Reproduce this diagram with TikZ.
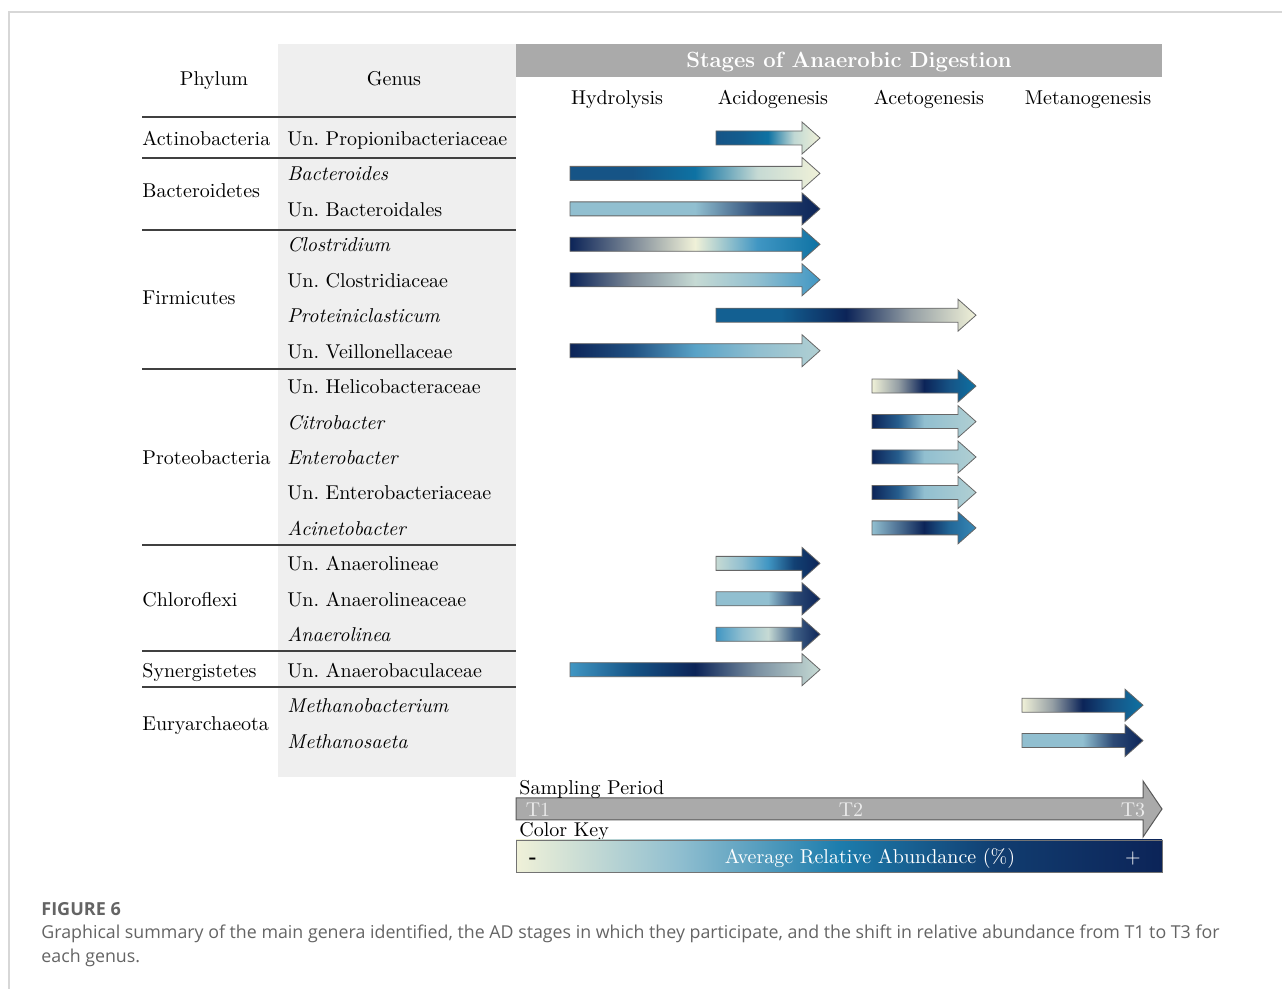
\documentclass[tikz,border=0pt]{standalone}
\usepackage{fontspec}
\newfontfamily\capfont{Open Sans}
\usepackage{tikz}
\frenchspacing

\definecolor{framegray}{RGB}{215,215,215}
\definecolor{genusgray}{RGB}{239,239,239}
\definecolor{bargray}{RGB}{170,170,170}
\definecolor{capgray}{RGB}{100,100,100}
\definecolor{acream}{RGB}{240,241,216}
\definecolor{apale}{RGB}{198,218,212}
\definecolor{alight}{RGB}{145,191,208}
\definecolor{amid}{RGB}{64,150,195}
\definecolor{ateal}{RGB}{14,114,163}
\definecolor{adeep}{RGB}{22,84,134}
\definecolor{anavy}{RGB}{12,36,88}

% five colour stops along an arrow (0, 1/4, 1/2, 3/4, 1)
\newcommand{\abshading}[6]{\pgfdeclarehorizontalshading{#1}{100bp}{color(0bp)=(#2); color(25bp)=(#2); color(37.5bp)=(#3); color(50bp)=(#4); color(62.5bp)=(#5); color(75bp)=(#6); color(100bp)=(#6)}}
\abshading{sPropion}{adeep}{adeep!70!ateal}{ateal}{alight!50!acream}{acream}
\abshading{sBacteroides}{adeep}{adeep}{ateal}{apale}{acream}
\abshading{sDarkEnd}{alight}{alight}{alight}{anavy!75!alight}{anavy}
\abshading{sClostridium}{anavy}{anavy!50!acream}{acream}{amid}{ateal}
\abshading{sClostridiaceae}{anavy}{anavy!50!acream}{apale}{alight}{amid}
\abshading{sProteini}{adeep!60!ateal}{adeep!60!ateal}{anavy}{anavy!40!acream}{acream}
\abshading{sVeillonella}{anavy}{anavy!60!amid}{amid!70!alight}{alight}{apale!60!alight}
\abshading{sCreamStart}{acream}{anavy!40!acream}{anavy}{adeep}{ateal}
\abshading{sPaleEnd}{anavy}{anavy!50!amid}{alight}{alight!70!apale}{apale!60!alight}
\abshading{sAcineto}{alight}{anavy!50!alight}{anavy}{adeep!70!amid}{amid!80!adeep}
\abshading{sAnaerolineae}{apale}{alight}{amid}{adeep!60!anavy}{anavy}
\abshading{sAnaerolinea}{amid}{alight}{apale}{anavy!60!alight}{anavy}
\abshading{sAnaerobacula}{amid}{adeep}{anavy}{anavy!40!apale}{apale}
\abshading{sKey}{acream}{alight}{ateal!70!amid}{adeep!50!anavy}{anavy}

% y, x start, x tip, shading
\newcommand{\stagearrow}[4]{\shadedraw[abarrow, shading=#4] (#2,#1-7) -- (#3-18,#1-7) -- (#3-18,#1-16) -- (#3,#1) -- (#3-18,#1+16) -- (#3-18,#1+7) -- (#2,#1+7) -- cycle;}

\begin{document}
\begin{tikzpicture}[
        x=0.5pt, y=-0.5pt,
        txt/.style={inner sep=0pt, text height=9pt, text depth=1.5pt, font=\fontsize{10}{12}\selectfont},
        phylum/.style={txt, anchor=west},
        genus/.style={txt, anchor=west},
        stage/.style={txt},
        sep/.style={draw=black!75, line width=0.75pt},
        abarrow/.style={draw=black!60, line width=0.4pt},
        keytext/.style={txt, text=white},
        caption/.style={anchor=west, inner sep=0pt, text=capgray, font=\capfont\fontsize{8.9}{11}\selectfont}
    ]
        \useasboundingbox (0,0) rectangle (1282,989);
        \draw[framegray, line width=0.6pt] (9,989) -- (9,12) -- (1282,12);

        % Table background and header
        \fill[genusgray] (278,44) rectangle (516,777);
        \fill[bargray] (516,44) rectangle (1162,77);
        \node[txt, text=white, font=\bfseries\fontsize{11}{13}\selectfont] (title) at (849,60) {Stages of Anaerobic Digestion};
        \node[txt] (phylumhead) at (214,78) {Phylum};
        \node[txt] (genushead) at (394,78) {Genus};
        \node[stage] (hydro) at (617,97) {Hydrolysis};
        \node[stage] (acido) at (773,97) {Acidogenesis};
        \node[stage] (aceto) at (929,97) {Acetogenesis};
        \node[stage] (metano) at (1088,97) {Metanogenesis};

        \foreach \y in {117,158,230,369,545,651,687}
            \draw[sep] (142,\y) -- (516,\y);

        % Phyla
        \node[phylum] (actino) at (142,138) {Actinobacteria};
        \node[phylum] (bactero) at (142,190) {Bacteroidetes};
        \node[phylum] (firmi) at (142,297) {Firmicutes};
        \node[phylum] (proteo) at (142,457) {Proteobacteria};
        \node[phylum] (chloro) at (142,599) {Chloroflexi};
        \node[phylum] (synerg) at (142,670) {Synergistetes};
        \node[phylum] (euryar) at (142,723) {Euryarchaeota};

        % Genera
        \node[genus] (propion) at (287,138.0) {Un. Propionibacteriaceae};
        \node[genus] (bacteroides) at (287,173.4) {\itshape Bacteroides};
        \node[genus] (bacteroidales) at (287,208.9) {Un. Bacteroidales};
        \node[genus] (clostridium) at (287,244.3) {\itshape Clostridium};
        \node[genus] (clostridiaceae) at (287,279.8) {Un. Clostridiaceae};
        \node[genus] (proteini) at (287,315.2) {\itshape Proteiniclasticum};
        \node[genus] (veillon) at (287,350.7) {Un. Veillonellaceae};
        \node[genus] (helico) at (287,386.1) {Un. Helicobacteraceae};
        \node[genus] (citro) at (287,421.6) {\itshape Citrobacter};
        \node[genus] (entero) at (287,457.0) {\itshape Enterobacter};
        \node[genus] (enterofam) at (287,492.5) {Un. Enterobacteriaceae};
        \node[genus] (acineto) at (287,527.9) {\itshape Acinetobacter};
        \node[genus] (anaeroli) at (287,563.4) {Un. Anaerolineae};
        \node[genus] (anaerofam) at (287,598.8) {Un. Anaerolineaceae};
        \node[genus] (anaerolinea) at (287,634.3) {\itshape Anaerolinea};
        \node[genus] (anaerobacula) at (287,669.7) {Un. Anaerobaculaceae};
        \node[genus] (methanobact) at (287,705.2) {\itshape Methanobacterium};
        \node[genus] (methanosaeta) at (287,740.6) {\itshape Methanosaeta};

        % Stage arrows
        \stagearrow{138.0}{716}{820}{sPropion}
        \stagearrow{173.4}{570}{820}{sBacteroides}
        \stagearrow{208.9}{570}{820}{sDarkEnd}
        \stagearrow{244.3}{570}{820}{sClostridium}
        \stagearrow{279.8}{570}{820}{sClostridiaceae}
        \stagearrow{315.2}{716}{976}{sProteini}
        \stagearrow{350.7}{570}{820}{sVeillonella}
        \stagearrow{386.1}{872}{976}{sCreamStart}
        \stagearrow{421.6}{872}{976}{sPaleEnd}
        \stagearrow{457.0}{872}{976}{sPaleEnd}
        \stagearrow{492.5}{872}{976}{sPaleEnd}
        \stagearrow{527.9}{872}{976}{sAcineto}
        \stagearrow{563.4}{716}{820}{sAnaerolineae}
        \stagearrow{598.8}{716}{820}{sDarkEnd}
        \stagearrow{634.3}{716}{820}{sAnaerolinea}
        \stagearrow{669.7}{570}{820}{sAnaerobacula}
        \stagearrow{705.2}{1022}{1143}{sCreamStart}
        \stagearrow{740.6}{1022}{1143}{sDarkEnd}

        % Sampling period
        \filldraw[fill=bargray, draw=black!65, line width=0.5pt] (516,798) -- (1143,798) -- (1143,781) -- (1162,809) -- (1143,837) -- (1143,820) -- (516,820) -- cycle;
        \node[txt, anchor=west] (sampling) at (519,787) {Sampling Period};
        \node[txt, text=black!8] (tone) at (538,809) {T1};
        \node[txt, text=black!8] (ttwo) at (851,809) {T2};
        \node[txt, text=black!8] (tthree) at (1133,809) {T3};

        % Color key
        \node[txt, anchor=west] (colorkey) at (519,829) {Color Key};
        \shadedraw[draw=black!55, line width=0.4pt, shading=sKey] (516,840) rectangle (1162,872);
        \node[txt, font=\bfseries\fontsize{10}{12}\selectfont] (minus) at (533,856) {-};
        \node[keytext] (abund) at (870,856) {Average Relative Abundance (\%)};
        \node[keytext] (plus) at (1133,856) {+};

        % Caption
        \node[caption, font=\capfont\bfseries\fontsize{9}{11}\selectfont] (figlabel) at (41,909) {FIGURE 6};
        \node[caption] (capone) at (41,934) {Graphical summary of the main genera identified, the AD stages in which they participate, and the shift in relative abundance from T1 to T3 for};
        \node[caption] (captwo) at (41,958) {each genus.};
    \end{tikzpicture}
\end{document}
